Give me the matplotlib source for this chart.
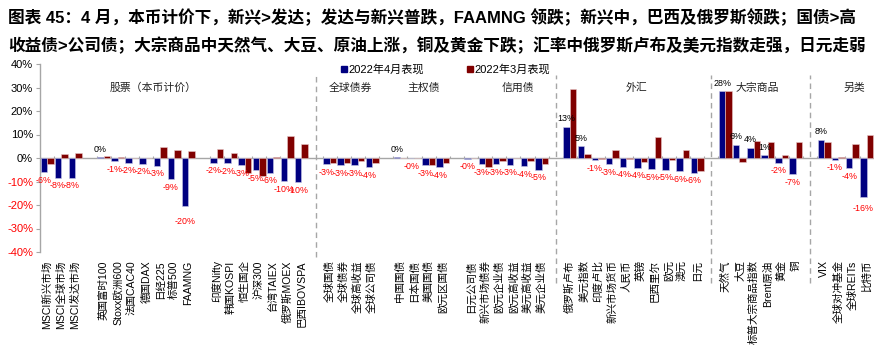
import matplotlib
matplotlib.use("Agg")
import matplotlib.pyplot as plt
import matplotlib.transforms as mtransforms
import numpy as np

plt.rcParams['font.family'] = ['Liberation Sans', 'Noto Sans CJK SC']

# ---------------- data ----------------
# None marks an empty slot between groups
categories = [
    "MSCI新兴市场", "MSCI全球市场", "MSCI发达市场", None,
    "英国富时100", "Stoxx欧洲600", "法国CAC40", "德国DAX", "日经225", "标普500", "FAAMNG", None,
    "印度Nifty", "韩国KOSPI", "恒生国企", "沪深300", "台湾TAIEX", "俄罗斯MOEX", "巴西IBOVSPA", None,
    "全球国债", "全球债券", "全球高收益", "全球公司债", None,
    "中国国债", "日本国债", "美国国债", "欧元区国债", None,
    "日元公司债", "新兴市场债券", "欧元企业债", "欧元高收益", "美元高收益", "美元企业债", None,
    "俄罗斯卢布", "美元指数", "印度卢比", "新兴市场货币", "人民币", "英镑", "巴西里尔", "欧元", "澳元", "日元", None,
    "天然气", "大豆", "标普大宗商品指数", "Brent原油", "黄金", "铜", None,
    "VIX", "全球对冲基金", "全球REITs", "比特币",
]

apr_2022 = [
    -6.0, -8.4, -8.3, None,
    0.3, -1.4, -2.1, -2.4, -3.4, -9.1, -20.4, None,
    -2.1, -2.3, -3.1, -5.2, -6.3, -9.9, -10.4, None,
    -2.6, -3.0, -3.1, -4.0, None,
    0.3, -0.2, -3.1, -3.9, None,
    -0.3, -2.6, -2.6, -2.9, -3.6, -4.9, None,
    13.2, 5.1, -1.0, -2.6, -3.7, -4.1, -4.7, -4.9, -5.6, -6.2, None,
    28.4, 5.6, 4.4, 1.1, -2.0, -7.0, None,
    7.7, -0.7, -4.4, -16.4,
]

mar_2022 = [
    -2.7, 1.9, 2.3, None,
    0.9, 0.5, 0.0, 0.0, 4.8, 3.5, 3.0, None,
    3.9, 2.1, -6.4, -7.7, 0.3, 9.4, 6.0, None,
    -2.1, -2.1, -1.1, -2.3, None,
    0.0, 0.0, -2.9, -2.3, None,
    -0.2, -3.7, -1.4, 0.0, -1.1, -2.6, None,
    29.5, 1.6, -0.3, 3.4, -0.3, -1.7, 9.1, -1.0, 3.3, -5.4, None,
    28.5, -1.5, 7.4, 6.7, 1.4, 6.9, None,
    7.0, 0.3, 5.9, 9.9,
]

yticks = [40, 30, 20, 10, 0, -10, -20, -30, -40]
group_titles = ["股票（本币计价）", "全球债券", "主权债", "信用债", "外汇", "大宗商品", "另类"]
legend_labels = ["2022年4月表现", "2022年3月表现"]
title_lines = [
    "图表 45：4 月，本币计价下，新兴>发达；发达与新兴普跌，FAAMNG 领跌；新兴中，巴西及俄罗斯领跌；国债>高",
    "收益债>公司债；大宗商品中天然气、大豆、原油上涨，铜及黄金下跌；汇率中俄罗斯卢布及美元指数走强，日元走弱",
]

# ---------------- style ----------------
BLUE = "#000080"
RED = "#800000"
GRAY = "#A6A6A6"
NEG_RED = "#FF0000"

W, H = 893, 350
fig = plt.figure(figsize=(W / 100, H / 100), dpi=100)
n = len(categories)
slot_px = 14.13
ax_left_px, ax_top_px, ax_bot_px = 40, 64, 252
ax_w_px = slot_px * n
ax = fig.add_axes([ax_left_px / W, (H - ax_bot_px) / H, ax_w_px / W, (ax_bot_px - ax_top_px) / H])

x = np.arange(n)
idx = [i for i, c in enumerate(categories) if c is not None]
a_vals = np.array([apr_2022[i] for i in idx])
m_vals = np.array([mar_2022[i] for i in idx])
xi = np.array(idx, dtype=float)
bw = 0.46

ax.bar(xi - bw / 2, a_vals, width=bw, color=BLUE, edgecolor="#C8C8E8", linewidth=0.4, zorder=3)
ax.bar(xi + bw / 2, m_vals, width=bw, color=RED, edgecolor="#E8C8C8", linewidth=0.4, zorder=3)

ax.set_xlim(-0.5, n - 0.5)
ax.set_ylim(-40, 40)

# zero line and small tick marks at slot boundaries
ax.axhline(0, color=GRAY, lw=1.0, zorder=2)
ax.vlines(np.arange(n + 1) - 0.5, 0, 0.8, color=GRAY, lw=0.8, zorder=2)

# y axis
ax.set_yticks(yticks)
ax.set_yticklabels([f"{t}%" for t in yticks], fontsize=8)
for lab, t in zip(ax.get_yticklabels(), yticks):
    lab.set_color(NEG_RED if t < 0 else "black")
ax.tick_params(axis="y", length=3, color=GRAY, pad=2)
for s in ["top", "right", "bottom"]:
    ax.spines[s].set_visible(False)
ax.spines["left"].set_color(GRAY)
ax.spines["left"].set_linewidth(1.0)

# x labels: at bottom, vertical
ax.set_xticks(xi)
ax.set_xticklabels([categories[i] for i in idx], rotation=90, fontsize=7.6, va="top", ha="center")
ax.tick_params(axis="x", length=0, pad=6)

# data labels for April values
extra_gap = {"FAAMNG": 8, "比特币": 4}
for i, v in zip(idx, a_vals):
    txt = f"{v:.0f}%"
    gap = 8 + extra_gap.get(categories[i], 0)
    if v >= 0:
        ax.annotate(txt, (i - bw / 2, v), xytext=(0, gap * 0.72), textcoords="offset points",
                    ha="center", va="center", fontsize=6.4, color="black", zorder=5)
    else:
        ax.annotate(txt, (i - bw / 2, v), xytext=(0, -gap * 0.72), textcoords="offset points",
                    ha="center", va="center", fontsize=6.4, color=NEG_RED, zorder=5)

# dashed separators (at empty slots)
sep_slots = [i for i, c in enumerate(categories) if c is None]
sep_slots = [sep_slots[2], sep_slots[5], sep_slots[6], sep_slots[7]]
sep_bottom_px = [257, 283, 283, 283]
trans = mtransforms.blended_transform_factory(ax.transData, ax.transAxes)
for s, bpx in zip(sep_slots, sep_bottom_px):
    y0 = (ax_bot_px - 75) / (ax_bot_px - ax_top_px)
    y1 = (ax_bot_px - bpx) / (ax_bot_px - ax_top_px)
    ax.plot([s, s], [y1, y0], transform=trans, color=GRAY, lw=1.0, ls=(0, (4, 3)), clip_on=False, zorder=1)

# group titles
title_px = [153, 350, 424, 518, 636, 757, 854]
for t, px in zip(group_titles, title_px):
    fig.text(px / W, 1 - 88 / H, t, ha="center", va="center", fontsize=7.8, color="#222222")

# legend
for lab, col, mx in zip(legend_labels, [BLUE, RED], [341, 467]):
    fig.patches.append(plt.Rectangle((mx / W, 1 - 72 / H), 5.5 / W, 6 / H, transform=fig.transFigure,
                                     color=col, figure=fig))
    fig.text((mx + 7) / W, 1 - 69 / H, lab, ha="left", va="center", fontsize=8, color="black")

# title
fig.text(8 / W, 1 - 17 / H, title_lines[0], ha="left", va="center", fontsize=12.0, fontweight="bold")
fig.text(8 / W, 1 - 45 / H, title_lines[1], ha="left", va="center", fontsize=12.0, fontweight="bold")

fig.savefig("out.png", dpi=100)
